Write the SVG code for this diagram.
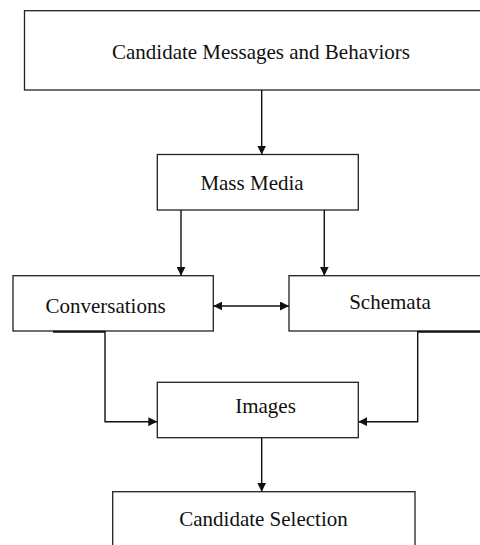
<svg xmlns="http://www.w3.org/2000/svg" width="480" height="545" viewBox="0 0 480 545">
<style>
.box{fill:#fff;stroke:#222;stroke-width:1.3}
.lbl{font-family:"Liberation Serif","Times New Roman",serif;font-size:21px;fill:#111;text-anchor:middle}
.con{fill:none;stroke:#111;stroke-width:1.4}
</style>
<defs>
<marker id="ah" viewBox="0 0 10 10" refX="10" refY="5" markerWidth="9" markerHeight="9" markerUnits="userSpaceOnUse" orient="auto-start-reverse">
<path d="M0,0 L10,5 L0,10 z" fill="#111"/>
</marker>
</defs>
<rect width="480" height="545" fill="#fff"/>
<g id="n-messages"><rect class="box" x="24.5" y="10.7" width="470" height="79.3"/><text class="lbl" x="261" y="59">Candidate Messages and Behaviors</text></g>
<g id="n-massmedia"><rect class="box" x="157.3" y="154.5" width="201" height="55.5"/><text class="lbl" x="252" y="190">Mass Media</text></g>
<g id="n-conversations"><rect class="box" x="13" y="275.7" width="200.3" height="55.3"/><text class="lbl" x="105.5" y="313">Conversations</text></g>
<g id="n-schemata"><rect class="box" x="289" y="275.7" width="200" height="55.3"/><text class="lbl" x="390" y="309">Schemata</text></g>
<g id="n-images"><rect class="box" x="157.3" y="382.3" width="201" height="55.4"/><text class="lbl" x="265.5" y="413">Images</text></g>
<g id="n-selection"><rect class="box" x="112.7" y="491.7" width="302.3" height="70"/><text class="lbl" x="263.5" y="526">Candidate Selection</text></g>
<g id="connectors">
<line class="con" x1="261.7" y1="90" x2="261.7" y2="154.5" marker-end="url(#ah)"/>
<line class="con" x1="181" y1="210" x2="181" y2="275.7" marker-end="url(#ah)"/>
<line class="con" x1="324.3" y1="210" x2="324.3" y2="275.7" marker-end="url(#ah)"/>
<line class="con" x1="213.3" y1="306" x2="289" y2="306" marker-start="url(#ah)" marker-end="url(#ah)"/>
<line x1="53" y1="331.8" x2="105" y2="331.8" stroke="#111" stroke-width="2"/>
<line x1="418" y1="331.8" x2="480" y2="331.8" stroke="#111" stroke-width="2"/>
<polyline class="con" points="105,331 105,421.7 157.3,421.7" marker-end="url(#ah)"/>
<polyline class="con" points="417.7,331 417.7,421.7 358.3,421.7" marker-end="url(#ah)"/>
<line class="con" x1="261.7" y1="437.7" x2="261.7" y2="491.7" marker-end="url(#ah)"/>
</g>
</svg>
